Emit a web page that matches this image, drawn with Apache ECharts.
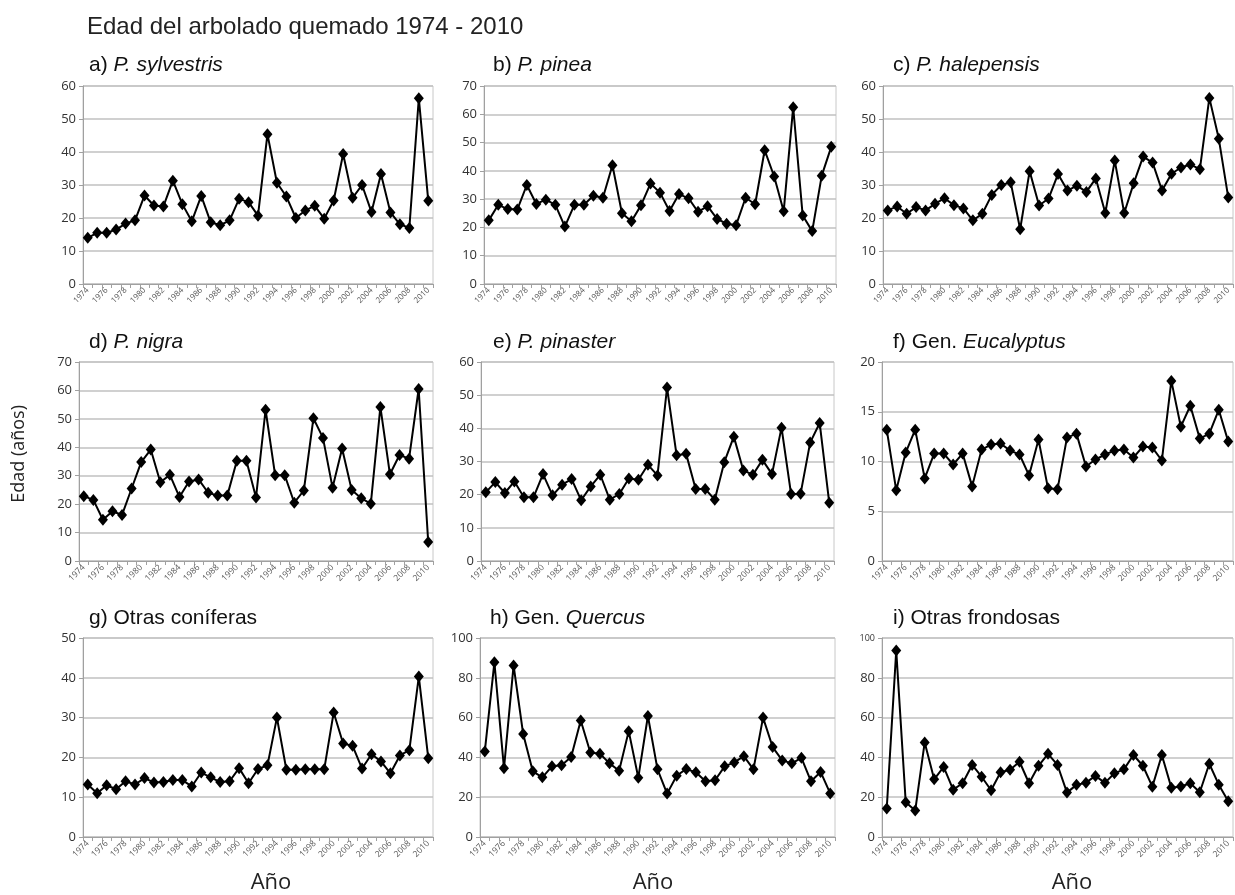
<!DOCTYPE html>
<html>
<head>
<meta charset="utf-8">
<script src="https://cdn.jsdelivr.net/npm/echarts@6/dist/echarts.min.js"></script>
<style>
html,body{margin:0;padding:0;background:#fff;}
#chart{width:1235px;height:895px;}
</style>
</head>
<body>
<div id="chart"></div>
<script>
// ---- Data ----
const years = ['1974','1975','1976','1977','1978','1979','1980','1981','1982','1983','1984','1985','1986','1987','1988','1989','1990','1991','1992','1993','1994','1995','1996','1997','1998','1999','2000','2001','2002','2003','2004','2005','2006','2007','2008','2009','2010'];

const sylvestris = [14,15.5,15.5,16.5,18.3,19.3,26.8,23.8,23.5,31.3,24.2,19,26.7,18.7,17.8,19.3,25.8,24.8,20.7,45.4,30.7,26.5,20,22.3,23.7,19.8,25.3,39.4,26.1,30,21.8,33.3,21.7,18.1,17,56.3,25.2];
const pinea = [22.5,28,26.5,26.3,35,28.3,29.8,28,20.3,28,28,31.2,30.5,42,25,22.2,27.8,35.5,32.3,25.8,31.8,30.3,25.5,27.5,23,21.3,20.8,30.5,28.2,47.3,38,25.7,62.5,24.2,18.7,38.3,48.5];
const halepensis = [22.3,23.5,21.3,23.3,22.3,24.3,26,23.9,22.9,19.3,21.3,27,30,30.8,16.6,34.2,23.8,25.9,33.3,28.3,29.8,27.9,32,21.5,37.4,21.5,30.5,38.6,36.8,28.3,33.4,35.3,36.2,34.8,56.4,44,26.2];
const nigra = [22.8,21.5,14.5,17.5,16.2,25.5,34.8,39.2,27.7,30.3,22.5,28,28.7,24,23,23,35.3,35.3,22.3,53.2,30.2,30.2,20.5,24.8,50.2,43.3,25.8,39.6,25,22.1,20.1,54.2,30.5,37.3,36,60.5,6.7];
const pinaster = [20.7,23.8,20.5,24,19.2,19.2,26.2,19.8,23,24.7,18.3,22.5,26,18.5,20.2,24.9,24.5,29,25.8,52.3,31.9,32.3,21.7,21.7,18.5,29.8,37.5,27.3,26,30.5,26.2,40.2,20.2,20.3,35.7,41.6,17.6];
const eucalyptus = [13.2,7.1,10.9,13.2,8.3,10.8,10.8,9.7,10.8,7.5,11.2,11.7,11.8,11.1,10.7,8.6,12.2,7.3,7.2,12.4,12.8,9.5,10.2,10.7,11.1,11.2,10.4,11.5,11.4,10.1,18.1,13.5,15.6,12.3,12.8,15.2,12.0];
const otrasConiferas = [13.2,11,13,12,14,13.2,14.8,13.7,13.8,14.3,14.3,12.7,16.2,15,13.8,14,17.3,13.5,17.1,18,30,16.9,16.9,17,17,17,31.3,23.5,22.9,17.2,20.8,19,16,20.5,21.8,40.3,19.8];
const quercus = [43,87.8,34.5,86.2,51.7,33,30,35.5,36,40.2,58.5,42.5,41.8,37,33.3,53.2,29.8,60.8,34,21.8,30.8,34.2,32.5,28,28.5,35.5,37.5,40.6,34,60,45.2,38.5,37,39.8,28,32.7,21.9];
const otrasFrondosas = [14.3,93.7,17.5,13.3,47.5,29,35.2,23.8,27,36.2,30.3,23.5,32.5,33.8,37.8,27,35.8,41.8,36.2,22.3,26.2,27.3,30.7,27.2,32,34,41.2,35.8,25.3,41.2,24.8,25.4,27,22.5,36.8,26.3,18];

const panelLabels = ['a) ','b) ','c) ','d) ','e) ','f) Gen. ','g) Otras coníferas','h) Gen. ','i) Otras frondosas'];
const panelItalic = ['P. sylvestris','P. pinea','P. halepensis','P. nigra','P. pinaster','Eucalyptus','','Quercus',''];
const yMax = [60,70,60,70,60,20,50,100,100];
const yStep = [10,10,10,10,10,5,10,20,20];
const seriesData = [sylvestris,pinea,halepensis,nigra,pinaster,eucalyptus,otrasConiferas,quercus,otrasFrondosas];

const mainTitle = 'Edad del arbolado quemado 1974 - 2010';
const yName = 'Edad (años)';
const xName = 'Año';

// ---- Layout ----
const grids = [
  {left:83, top:86, width:350, height:198},
  {left:484, top:86, width:352, height:198},
  {left:883, top:86, width:350, height:198},
  {left:79, top:362, width:354, height:199},
  {left:481, top:362, width:353, height:199},
  {left:882, top:362, width:351, height:199},
  {left:83, top:638, width:350, height:199},
  {left:480, top:638, width:355, height:199},
  {left:882, top:638, width:351, height:199}
];
const titlePos = [[89,55],[493,55],[893,55],[89,332],[493,332],[893,332],[89,608],[490,608],[893,608]];

const titleFont = "'Liberation Sans Narrow','Liberation Sans',Arial,sans-serif";
const axisFont = "'Open Sans','Liberation Sans',sans-serif";

const chart = echarts.init(document.getElementById('chart'), null, {renderer:'canvas'});

const titles = [{
  text: mainTitle, left: 82, top: 10,
  textStyle: {fontFamily: titleFont, fontSize: 24, fontWeight: 'normal', color: '#222'}
}];
for (let i = 0; i < 9; i++) {
  const txt = panelItalic[i] ? '{n|' + panelLabels[i] + '}{i|' + panelItalic[i] + '}' : '{n|' + panelLabels[i] + '}';
  titles.push({
    text: txt, left: titlePos[i][0], top: titlePos[i][1], padding: 0,
    textStyle: {
      fontWeight: 'normal',
      rich: {
        n: {fontFamily: titleFont, fontSize: 21, fontWeight: 'normal', color: '#111'},
        i: {fontFamily: titleFont, fontSize: 21, fontWeight: 'normal', fontStyle: 'italic', color: '#111'}
      }
    }
  });
}

const gridOpts = grids.map(g => Object.assign({show: true, borderColor: '#c8c8c8', borderWidth: 1, containLabel: false}, g));

const xAxes = [], yAxes = [], series = [];
for (let i = 0; i < 9; i++) {
  xAxes.push({
    type: 'category', gridIndex: i, data: years, boundaryGap: true,
    axisLine: {show: true, lineStyle: {color: '#a0a0a0', width: 1}},
    axisTick: {show: true, interval: 0, length: 4, lineStyle: {color: '#a0a0a0'}},
    axisLabel: {interval: 1, rotate: 45, fontSize: i < 3 ? 8 : 8.5, color: '#555', fontFamily: axisFont, margin: 5},
    splitLine: {show: false}
  });
  const yAxis = {
    type: 'value', gridIndex: i, min: 0, max: yMax[i], interval: yStep[i],
    axisLine: {show: true, lineStyle: {color: '#a0a0a0', width: 1}},
    axisTick: {show: true, length: 4, lineStyle: {color: '#a0a0a0'}},
    axisLabel: {fontSize: 13, color: '#333', fontFamily: axisFont, margin: 7},
    splitLine: {show: true, lineStyle: {color: '#c0c0c0', width: 1.5}}
  };
  if (i === 8) {
    yAxis.axisLabel.formatter = function (v) { return v === 100 ? '{s|100}' : String(v); };
    yAxis.axisLabel.rich = {s: {fontSize: 9, color: '#333', fontFamily: axisFont}};
  }
  yAxes.push(yAxis);
  series.push({
    type: 'line', xAxisIndex: i, yAxisIndex: i, data: seriesData[i],
    symbol: 'diamond', symbolSize: [10, 12], showSymbol: true, showAllSymbol: true,
    lineStyle: {color: '#000', width: 2},
    itemStyle: {color: '#000'},
    emphasis: {disabled: true}
  });
}

const graphics = [
  {type: 'text', left: 10, top: 405, rotation: Math.PI / 2,
   style: {text: yName, fontSize: 18, fontFamily: axisFont, fill: '#222'}},
];
const xNameCenters = [271, 653, 1072];
xNameCenters.forEach(c => {
  graphics.push({type: 'text', x: c, y: 872,
    style: {text: xName, fontSize: 22, fontFamily: axisFont, fill: '#222', align: 'center'}});
});

chart.setOption({
  animation: false,
  backgroundColor: '#fff',
  title: titles,
  grid: gridOpts,
  xAxis: xAxes,
  yAxis: yAxes,
  series: series,
  graphic: graphics
});
</script>
</body>
</html>
